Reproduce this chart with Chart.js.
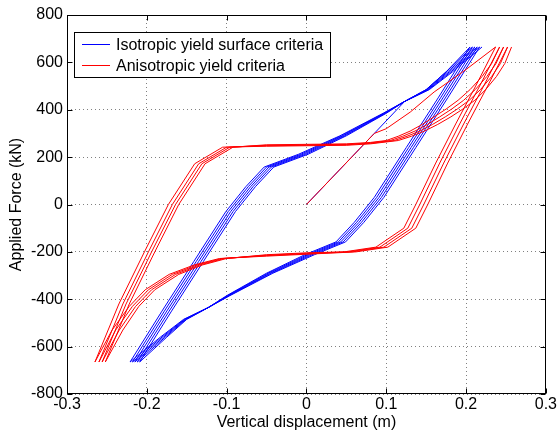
<!DOCTYPE html>
<html>
<head>
<meta charset="utf-8">
<script src="https://cdn.jsdelivr.net/npm/chart.js@4.4.0/dist/chart.umd.min.js"></script>
<style>
  html, body { margin: 0; padding: 0; background: #fff; }
  #plot { display: block; }
</style>
</head>
<body>
<canvas id="plot" width="558" height="434"></canvas>
<script>
const seriesNames = ['Isotropic yield surface criteria', 'Anisotropic yield criteria'];
const seriesColors = ['#0000ff', '#ff0000'];

const xTicks = [-0.3, -0.2, -0.1, 0, 0.1, 0.2, 0.3];
const xTickLabels = ['-0.3', '-0.2', '-0.1', '0', '0.1', '0.2', '0.3'];
const yTicks = [-800, -600, -400, -200, 0, 200, 400, 600, 800];

// isotropic model: first loading, then 5 load cycles (down / up)
const blueDisp = [
  0, 0.085, 0.123, 0.150, 0.175, 0.205,
  0.165, 0.125, 0.085, 0.060, 0.037, -0.002, -0.050, -0.100, -0.123, -0.150, -0.175, -0.209,
  -0.169, -0.129, -0.089, -0.064, -0.041, 0.002, 0.050, 0.100, 0.123, 0.150, 0.175, 0.208,
  0.168, 0.128, 0.088, 0.063, 0.040, 0.001, -0.048, -0.099, -0.123, -0.151, -0.177, -0.212,
  -0.172, -0.132, -0.092, -0.067, -0.044, -0.001, 0.048, 0.099, 0.123, 0.151, 0.177, 0.211,
  0.171, 0.131, 0.091, 0.066, 0.043, 0.004, -0.046, -0.098, -0.123, -0.152, -0.179, -0.215,
  -0.175, -0.135, -0.095, -0.070, -0.047, -0.004, 0.046, 0.098, 0.123, 0.152, 0.179, 0.214,
  0.174, 0.134, 0.094, 0.069, 0.046, 0.007, -0.044, -0.097, -0.123, -0.153, -0.181, -0.218,
  -0.178, -0.138, -0.098, -0.073, -0.050, -0.007, 0.044, 0.097, 0.123, 0.153, 0.181, 0.217,
  0.177, 0.137, 0.097, 0.072, 0.049, 0.010, -0.042, -0.096, -0.123, -0.154, -0.183, -0.221,
  -0.181, -0.141, -0.101, -0.076, -0.053, -0.010, 0.042, 0.096, 0.123, 0.154, 0.183, 0.220
];
const blueForce = [
  0, 300, 435, 485, 560, 665,
  450, 240, 30, -75, -158, -212, -290, -385, -435, -485, -560, -665,
  -450, -240, -30, 75, 158, 212, 290, 385, 435, 485, 560, 665,
  450, 240, 30, -75, -158, -212, -290, -385, -435, -485, -560, -665,
  -450, -240, -30, 75, 158, 212, 290, 385, 435, 485, 560, 665,
  450, 240, 30, -75, -158, -212, -290, -385, -435, -485, -560, -665,
  -450, -240, -30, 75, 158, 212, 290, 385, 435, 485, 560, 665,
  450, 240, 30, -75, -158, -212, -290, -385, -435, -485, -560, -665,
  -450, -240, -30, 75, 158, 212, 290, 385, 435, 485, 560, 665,
  450, 240, 30, -75, -158, -212, -290, -385, -435, -485, -560, -665,
  -450, -240, -30, 75, 158, 212, 290, 385, 435, 485, 560, 665
];

// anisotropic model: first loading, then 4 load cycles
const redDisp = [
  0, 0.085, 0.100, 0.130, 0.160, 0.200, 0.237,
  0.212, 0.187, 0.162, 0.137, 0.122, 0.087, 0.047, 0, -0.050, -0.100, -0.130, -0.160, -0.190, -0.210, -0.230, -0.252,
  -0.222, -0.190, -0.160, -0.127, -0.092, -0.050, 0, 0.050, 0.080, 0.100, 0.115, 0.130, 0.145, 0.160, 0.175, 0.190, 0.205, 0.220, 0.232, 0.242,
  0.217, 0.192, 0.167, 0.142, 0.127, 0.092, 0.052, 0, -0.050, -0.103, -0.1335, -0.164, -0.194, -0.214, -0.2345, -0.256,
  -0.226, -0.194, -0.164, -0.131, -0.096, -0.050, 0, 0.050, 0.080, 0.105, 0.1205, 0.136, 0.1515, 0.167, 0.182, 0.197, 0.2115, 0.226, 0.2375, 0.247,
  0.222, 0.197, 0.172, 0.147, 0.132, 0.097, 0.057, 0, -0.050, -0.106, -0.137, -0.168, -0.198, -0.218, -0.239, -0.260,
  -0.230, -0.198, -0.168, -0.135, -0.100, -0.050, 0, 0.050, 0.080, 0.110, 0.126, 0.142, 0.158, 0.174, 0.189, 0.204, 0.218, 0.232, 0.243, 0.252,
  0.227, 0.202, 0.177, 0.152, 0.137, 0.102, 0.062, 0, -0.050, -0.109, -0.1405, -0.172, -0.202, -0.222, -0.2435, -0.265,
  -0.235, -0.203, -0.173, -0.140, -0.105, -0.050, 0, 0.050, 0.080, 0.115, 0.1315, 0.148, 0.1645, 0.181, 0.196, 0.211, 0.2245, 0.238, 0.2485, 0.257
];
const redForce = [
  0, 300, 320, 390, 475, 570, 665,
  500, 340, 175, 0, -100, -180, -200, -204, -212, -228, -255, -295, -360, -430, -530, -665,
  -420, -200, 0, 172, 242, 252, 254, 256, 262, 270, 288, 310, 338, 370, 403, 440, 485, 540, 595, 665,
  500, 340, 175, 0, -100, -180, -200, -206, -214, -228, -255, -295, -360, -430, -530, -665,
  -420, -200, 0, 172, 242, 250, 252, 254, 260, 270, 288, 310, 338, 370, 403, 440, 485, 540, 595, 665,
  500, 340, 175, 0, -100, -180, -200, -208, -216, -228, -255, -295, -360, -430, -530, -665,
  -420, -200, 0, 172, 242, 248, 250, 252, 258, 270, 288, 310, 338, 370, 403, 440, 485, 540, 595, 665,
  500, 340, 175, 0, -100, -180, -200, -210, -218, -228, -255, -295, -360, -430, -530, -665,
  -420, -200, 0, 172, 242, 246, 248, 250, 256, 270, 288, 310, 338, 370, 403, 440, 485, 540, 595, 665
];

const FONT = '"Liberation Sans", Arial, Helvetica, sans-serif';

function toPoints(xs, ys) {
  return xs.map((x, i) => ({ x: x, y: ys[i] }));
}

// box round the axes, inward ticks (matlab style)
const framePlugin = {
  id: 'frame',
  afterDatasetsDraw(chart) {
    const { ctx, chartArea: a, scales } = chart;
    const l = Math.round(a.left) + 0.5, r = Math.round(a.right) - 0.5;
    const t = Math.round(a.top) + 0.5, b = Math.round(a.bottom) - 0.5;
    ctx.save();
    ctx.strokeStyle = '#000';
    ctx.lineWidth = 1;
    ctx.strokeRect(l, t, r - l, b - t);
    ctx.beginPath();
    xTicks.forEach((v) => {
      const px = Math.round(scales.x.getPixelForValue(v)) + 0.5;
      ctx.moveTo(px, b); ctx.lineTo(px, b - 5);
      ctx.moveTo(px, t); ctx.lineTo(px, t + 5);
    });
    yTicks.forEach((v) => {
      const py = Math.round(scales.y.getPixelForValue(v)) + 0.5;
      ctx.moveTo(l, py); ctx.lineTo(l + 5, py);
      ctx.moveTo(r, py); ctx.lineTo(r - 5, py);
    });
    ctx.stroke();
    ctx.restore();
  }
};

const boxLegend = {
  id: 'boxLegend',
  afterDraw(chart) {
    const ctx = chart.ctx;
    ctx.save();
    ctx.fillStyle = '#fff';
    ctx.fillRect(75, 33, 255, 44);
    ctx.strokeStyle = '#000';
    ctx.lineWidth = 1;
    ctx.strokeRect(74.5, 32.5, 256, 45);
    chart.data.datasets.forEach((ds, i) => {
      const y = 44.5 + i * 21;
      ctx.strokeStyle = ds.borderColor;
      ctx.beginPath();
      ctx.moveTo(82, y);
      ctx.lineTo(110, y);
      ctx.stroke();
      ctx.fillStyle = '#000';
      ctx.font = '16px ' + FONT;
      ctx.textBaseline = 'alphabetic';
      ctx.fillText(ds.label, 116, 50 + i * 21);
    });
    ctx.restore();
  }
};

function mainEvent() {
  const target = document.querySelector('#plot');
  const tickFont = { family: FONT, size: 16 };

  new Chart(target, {
    type: 'scatter',
    data: {
      datasets: [
        {
          label: seriesNames[0],
          data: toPoints(blueDisp, blueForce),
          borderColor: seriesColors[0],
          backgroundColor: seriesColors[0],
          showLine: true,
          order: 1
        },
        {
          label: seriesNames[1],
          data: toPoints(redDisp, redForce),
          borderColor: seriesColors[1],
          backgroundColor: seriesColors[1],
          showLine: true,
          order: 0
        }
      ]
    },
    options: {
      responsive: false,
      animation: false,
      layout: { padding: { top: 15, right: 11, left: 0, bottom: 0 } },
      elements: {
        point: { radius: 0, hoverRadius: 0 },
        line: { borderWidth: 1, tension: 0 }
      },
      plugins: {
        legend: { display: false },
        tooltip: { enabled: false }
      },
      scales: {
        x: {
          type: 'linear',
          min: -0.3,
          max: 0.3,
          afterBuildTicks: (s) => { s.ticks = xTicks.map((v) => ({ value: v })); },
          afterFit: (s) => { s.height = 40; },
          ticks: {
            callback: (v, i) => xTickLabels[i],
            font: tickFont,
            color: '#000',
            padding: 1,
            maxRotation: 0,
            autoSkip: false
          },
          grid: { color: '#808080', lineWidth: 1, drawTicks: false },
          border: { display: false, dash: [1, 3] },
          title: {
            display: true,
            text: 'Vertical displacement (m)',
            font: tickFont,
            color: '#000',
            padding: { top: 0, bottom: 2 }
          }
        },
        y: {
          type: 'linear',
          min: -800,
          max: 800,
          afterBuildTicks: (s) => { s.ticks = yTicks.map((v) => ({ value: v })); },
          afterFit: (s) => { s.width = 67; },
          ticks: {
            callback: (v) => String(v),
            font: tickFont,
            color: '#000',
            padding: 4
          },
          grid: { color: '#808080', lineWidth: 1, drawTicks: false },
          border: { display: false, dash: [1, 3] },
          title: {
            display: true,
            text: 'Applied Force (kN)',
            font: tickFont,
            color: '#000',
            padding: { top: 7, bottom: 0 }
          }
        }
      }
    },
    plugins: [framePlugin, boxLegend]
  });
}

document.addEventListener('DOMContentLoaded', () => mainEvent());
</script>
</body>
</html>
